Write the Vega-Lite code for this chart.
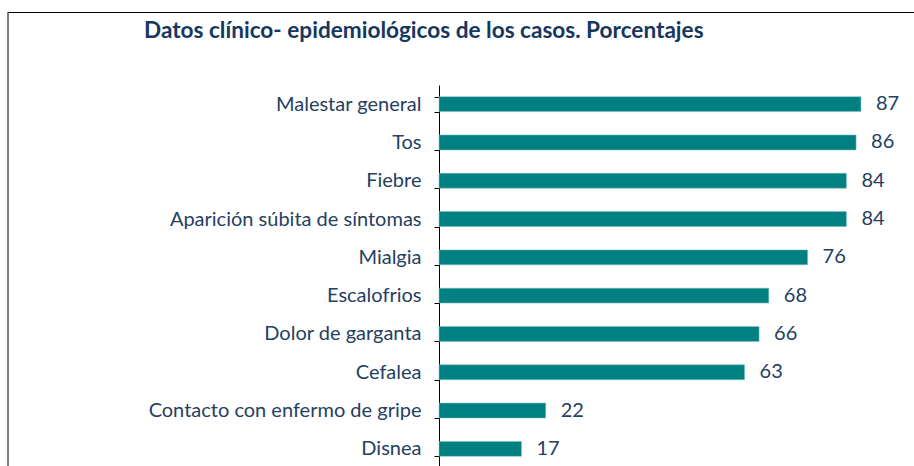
{
  "$schema": "https://vega.github.io/schema/vega-lite/v6.json",
  "autosize": {"type": "none"},
  "padding": {"left": 8, "top": 12, "right": 0, "bottom": 0},
  "width": 906,
  "height": 454,
  "background": "white",
  "title": {
    "text": "Datos clínico- epidemiológicos de los casos. Porcentajes",
    "anchor": "start",
    "frame": "group",
    "offset": 0,
    "dx": 136,
    "dy": 41,
    "font": "Lato",
    "fontSize": 22.6,
    "fontWeight": "bold",
    "color": "#17375E"
  },
  "config": {
    "view": {"stroke": null}
  },
  "data": {
    "values": [
      {"sintoma": "Malestar general", "pct": 87},
      {"sintoma": "Tos", "pct": 86},
      {"sintoma": "Fiebre", "pct": 84},
      {"sintoma": "Aparición súbita de síntomas", "pct": 84},
      {"sintoma": "Mialgia", "pct": 76},
      {"sintoma": "Escalofrios", "pct": 68},
      {"sintoma": "Dolor de garganta", "pct": 66},
      {"sintoma": "Cefalea", "pct": 63},
      {"sintoma": "Contacto con enfermo de gripe", "pct": 22},
      {"sintoma": "Disnea", "pct": 17}
    ]
  },
  "layer": [
    {
      "mark": {"type": "bar", "color": "#008080", "stroke": "#7FBFBF", "strokeWidth": 0.5},
      "encoding": {
        "y": {
          "field": "sintoma",
          "type": "nominal",
          "sort": null,
          "scale": {"range": [73, 456], "paddingInner": 0.61, "paddingOuter": 0.305},
          "axis": {
            "title": null,
            "offset": -431,
            "domainColor": "black",
            "domainWidth": 1,
            "tickColor": "black",
            "tickSize": 5,
            "tickBand": "extent",
            "labelPadding": 13,
            "labelFont": "Lato",
            "labelFontSize": 20,
            "labelColor": "#254061",
            "labelLimit": 400
          }
        },
        "x": {
          "field": "pct",
          "type": "quantitative",
          "scale": {"domain": [-88.87, 97.94], "nice": false, "zero": false},
          "axis": {
            "orient": "top",
            "title": null,
            "labels": false,
            "ticks": false,
            "grid": false,
            "domainColor": "black",
            "domainWidth": 1
          }
        }
      }
    },
    {
      "mark": {"type": "text", "align": "left", "baseline": "middle", "dx": 15, "font": "Lato", "fontSize": 20, "color": "#254061"},
      "encoding": {
        "y": {"field": "sintoma", "type": "nominal", "sort": null},
        "x": {"field": "pct", "type": "quantitative"},
        "text": {"field": "pct", "type": "quantitative"}
      }
    },
    {
      "data": {"values": [{}]},
      "mark": {"type": "rule", "color": "black", "strokeWidth": 1},
      "encoding": {
        "x": {"datum": -88.87, "type": "quantitative"}
      }
    }
  ]
}
